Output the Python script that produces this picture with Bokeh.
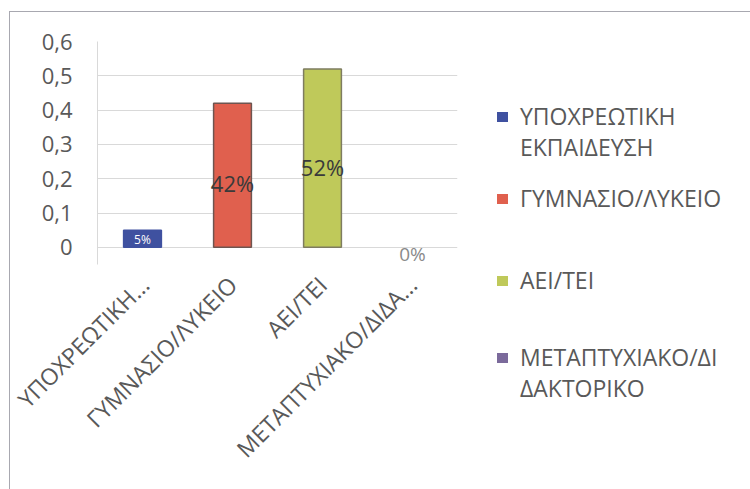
import math
from bokeh.plotting import figure
from bokeh.layouts import row
from bokeh.models import (FactorRange, FixedTicker, CustomJSTickFormatter,
                          ColumnDataSource, Div)
from bokeh.core.properties import value
from bokeh.embed import file_html
from bokeh.resources import INLINE

# ---- data ----
categories = ["ΥΠΟΧΡΕΩΤΙΚΗ ΕΚΠΑΙΔΕΥΣΗ", "ΓΥΜΝΑΣΙΟ/ΛΥΚΕΙΟ", "ΑΕΙ/ΤΕΙ",
              "ΜΕΤΑΠΤΥΧΙΑΚΟ/ΔΙΔΑΚΤΟΡΙΚΟ"]
axis_labels = ["ΥΠΟΧΡΕΩΤΙΚΗ...", "ΓΥΜΝΑΣΙΟ/ΛΥΚΕΙΟ", "ΑΕΙ/ΤΕΙ",
               "ΜΕΤΑΠΤΥΧΙΑΚΟ/ΔΙΔΑ..."]
legend_lines = [["ΥΠΟΧΡΕΩΤΙΚΗ", "ΕΚΠΑΙΔΕΥΣΗ"], ["ΓΥΜΝΑΣΙΟ/ΛΥΚΕΙΟ"], ["ΑΕΙ/ΤΕΙ"],
                ["ΜΕΤΑΠΤΥΧΙΑΚΟ/ΔΙ", "ΔΑΚΤΟΡΙΚΟ"]]
shares = [0.05, 0.42, 0.52, 0.0]
y_ticks = [0, 0.1, 0.2, 0.3, 0.4, 0.5, 0.6]

# ---- styles ----
bar_colors = ["#3F51A0", "#E0604E", "#BFC95A", "#7B6A9B"]
bar_lines = ["#3F51A0", "#6E5550", "#7E7C60", "#7B6A9B"]
bar_line_alpha = [1, 1, 1, 0]
label_colors = ["#FFFFFF", "#3A3A3A", "#3A3A3A", "#8A8A8A"]
label_sizes = ["12px", "22px", "22px", "19px"]
label_dy = [0, 0, 0, 7]
legend_tops = [84, 166, 248, 325]   # px from top of the legend panel
FONT = "Open Sans"
GRAY = "#595959"

src = ColumnDataSource(dict(
    cat=axis_labels, val=shares, fill=bar_colors, line=bar_lines, la=bar_line_alpha,
    lab=[f"{round(v * 100)}%" for v in shares],
    lab_y=[v * 0.45 for v in shares],
    lab_col=label_colors, lab_size=label_sizes, lab_dy=label_dy,
))

# ---- chart ----
p = figure(width=448, height=476, x_range=FactorRange(*axis_labels),
           y_range=(-0.05, 0.6), output_backend="svg", toolbar_location=None,
           min_border_left=87, min_border_top=29, min_border_right=1,
           min_border_bottom=224)
p.outline_line_color = None
p.background_fill_color = "white"
p.border_fill_color = "white"

bars = p.vbar(x="cat", top="val", bottom=0, width=0.42, source=src, fill_color="fill",
              line_color="line", line_alpha="la", line_width=1.5)
p.text(x="cat", y="lab_y", text="lab", source=src, text_color="lab_col",
       text_align="center", text_baseline="middle", text_font=value(FONT),
       text_font_size="lab_size", y_offset="lab_dy")

p.yaxis.ticker = FixedTicker(ticks=y_ticks)
p.yaxis.formatter = CustomJSTickFormatter(
    code="return Math.abs(tick) < 1e-9 ? '0' : tick.toFixed(1).replace('.', ',');")
p.yaxis.major_label_text_font = FONT
p.yaxis.major_label_text_font_size = "22px"
p.yaxis.major_label_text_color = GRAY
p.yaxis.axis_line_color = "#D9D9D9"
p.yaxis.major_tick_line_color = None
p.yaxis.minor_tick_line_color = None
p.yaxis.major_tick_out = 0
p.yaxis.major_label_standoff = 25

p.xaxis.major_label_orientation = math.pi / 4
p.xaxis.major_label_text_font = FONT
p.xaxis.major_label_text_font_size = "23px"
p.xaxis.major_label_text_color = GRAY
p.xaxis.axis_line_color = None
p.xaxis.major_tick_line_color = None
p.xaxis.major_tick_out = 0
p.xaxis.major_label_standoff = 16

p.xgrid.grid_line_color = None
p.ygrid.grid_line_color = "#D9D9D9"

# ---- legend panel ----
entries = []
for lines, color, top in zip(legend_lines, bar_colors, legend_tops):
    entries.append(
        f'<div style="position:absolute;left:34px;top:{top}px;">'
        f'<span style="position:absolute;left:0;top:11px;width:11px;height:10px;'
        f'background:{color};"></span>'
        f'<div style="position:absolute;left:23px;top:0;white-space:nowrap;'
        f'font-family:\'{FONT}\';font-size:23px;line-height:31px;color:{GRAY};">'
        + "<br>".join(lines) + '</div></div>')
legend_div = Div(text="".join(entries), width=289, height=476,
                 styles={"position": "relative", "background": "white"})

layout = row(p, legend_div, margin=(11, 0, 0, 9),
             styles={"border": "1px solid #a8a8b0", "background": "white"})

open("out.html", "w").write(file_html(layout, INLINE))
